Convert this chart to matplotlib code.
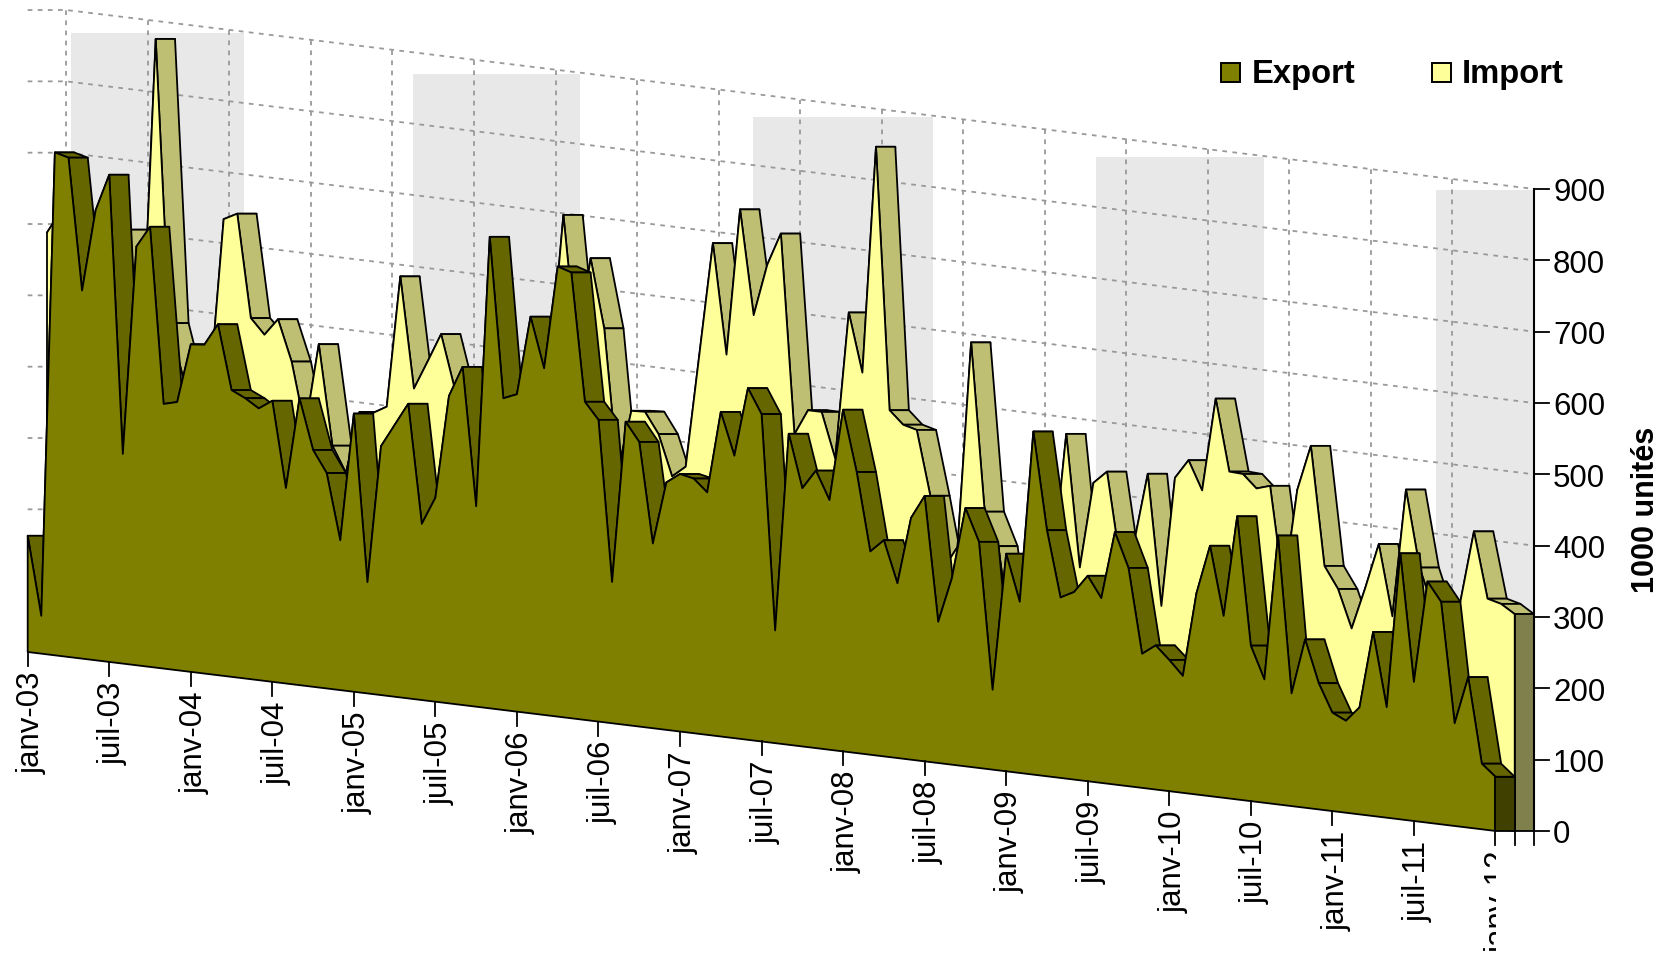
import numpy as np
import matplotlib
matplotlib.use('Agg')
import matplotlib.pyplot as plt
from matplotlib.patches import Polygon, Rectangle
from matplotlib.transforms import Affine2D

plt.rcParams['font.family'] = ['Liberation Sans', 'DejaVu Sans']

# monthly values, janv-03 to janv-12, in 1000 units
export = [163, 53, 705, 700, 516, 631, 683, 294, 587, 617,
          371, 376, 459, 461, 492, 402, 393, 381, 394, 274,
          402, 332, 302, 210, 390, 156, 349, 381, 413, 247,
          286, 431, 474, 281, 661, 437, 445, 556, 486, 631,
          625, 446, 423, 198, 425, 399, 259, 347, 361, 357,
          340, 455, 396, 493, 459, 158, 436, 362, 389, 350,
          479, 394, 285, 303, 245, 339, 372, 198, 261, 362,
          317, 112, 305, 240, 481, 345, 253, 263, 288, 259,
          354, 306, 188, 202, 184, 164, 282, 351, 255, 397,
          218, 173, 377, 158, 236, 177, 138, 129, 150, 258,
          155, 373, 195, 338, 312, 144, 211, 92, 76]
imports = [588, 620, 500, 450, 450, 450, 606, 437, 878, 482,
           409, 410, 403, 637, 647, 503, 482, 506, 449, 357,
           478, 338, 302, 390, 391, 402, 587, 432, 472, 513,
           439, 420, 430, 430, 420, 430, 430, 483, 701, 510,
           645, 549, 350, 438, 439, 410, 353, 369, 528, 687,
           533, 739, 593, 666, 712, 433, 469, 469, 406, 613,
           531, 850, 483, 465, 460, 370, 271, 303, 592, 357,
           311, 172, 300, 350, 289, 480, 295, 416, 434, 306,
           340, 438, 255, 437, 464, 424, 555, 455, 454, 436,
           442, 300, 441, 505, 339, 309, 256, 315, 379, 280,
           460, 353, 297, 300, 312, 413, 321, 316, 304]

tick_labels = ['janv-03', 'juil-03', 'janv-04', 'juil-04', 'janv-05', 'juil-05',
               'janv-06', 'juil-06', 'janv-07', 'juil-07', 'janv-08', 'juil-08',
               'janv-09', 'juil-09', 'janv-10', 'juil-10', 'janv-11', 'juil-11',
               'janv-12']
y_ticks = [0, 100, 200, 300, 400, 500, 600, 700, 800, 900]
# grey periods on the back wall, in months from janv-03
bands = [(0.35, 13.07), (25.5, 37.8), (50.5, 63.8), (75.8, 88.1), (100.8, 108)]

DEPTH = 19.3
oblique = Affine2D(np.array([[13.59, 0.0, 27.7],
                             [1.657, -0.7133, 652.0],
                             [0.0, 0.0, 1.0]]))


def project(m, v, depth=0.0):
    pts = oblique.transform(np.column_stack([m, v]))
    pts[:, 0] += depth
    return pts


def draw_series(ax, values, depth, front, side, end):
    months = np.arange(len(values))
    values = np.array(values, dtype=float)
    d2 = depth + DEPTH
    # top surface, one quad per month, left to right
    for i in months[:-1]:
        quad = np.vstack([project([i, i + 1], values[i:i + 2], depth),
                          project([i + 1, i], values[[i + 1, i]], d2)])
        ax.add_patch(Polygon(quad, closed=True, fc=side, ec='black', lw=1.3, joinstyle='round'))
    outline = np.vstack([project([0], [0], depth),
                         project(months, values, depth),
                         project([months[-1]], [0], depth)])
    ax.add_patch(Polygon(outline, closed=True, fc=front, ec='black', lw=1.3, joinstyle='round'))
    last = months[-1]
    wall = np.vstack([project([last, last], [0, values[-1]], depth),
                      project([last, last], [values[-1], 0], d2)])
    ax.add_patch(Polygon(wall, closed=True, fc=end, ec='black', lw=1.3, joinstyle='round'))


def main():
    fig = plt.figure(figsize=(16.7, 9.55), dpi=100)
    ax = fig.add_axes([0, 0, 1, 1])
    ax.set_xlim(0, 1670)
    ax.set_ylim(955, 0)
    ax.axis('off')

    back = 2 * DEPTH
    n = len(export) - 1
    grid = dict(color='#999999', lw=1.3, ls=(0, (2.6, 3)), zorder=1)

    for m1, m2 in bands:
        right_top = project([m2], [900], back)[0]
        left = project([m1], [900], back)[0]
        # the bottom stays hidden behind the series
        bottom = project([m1], [0])[0][1]
        ax.add_patch(Rectangle((left[0], right_top[1] + 1), right_top[0] - left[0],
                               bottom - right_top[1], fc='#E8E8E8', ec='none', zorder=0))

    for v in y_ticks:
        p = project([0, n], [v, v], back)
        s = project([0], [v], 0)
        ax.plot([s[0, 0], p[0, 0], p[1, 0]], [s[0, 1], p[0, 1], p[1, 1]], **grid)
    for m in range(0, n + 1, 6):
        p = project([m, m], [0, 900], back)
        ax.plot(p[:, 0], p[:, 1], **grid)

    draw_series(ax, imports, DEPTH, '#FFFF99', '#BFBF73', '#80804D')
    draw_series(ax, export, 0.0, '#808000', '#666600', '#404000')

    # month axis along the front edge
    clip = Rectangle((0, 0), 1495.6, 951, transform=ax.transData)
    for k, lab in enumerate(tick_labels):
        p = project([6 * k], [0])[0]
        ax.plot([p[0], p[0]], [p[1], p[1] + 14], color='black', lw=1.3)
        t = ax.text(p[0] + 4, p[1] + 19.5, lab, rotation=90, ha='center', va='top', fontsize=22.5)
        if k == len(tick_labels) - 1:
            t.set_clip_on(True)
            t.set_clip_path(clip)
    for depth in (DEPTH, back):
        p = project([n], [0], depth)[0]
        ax.plot([p[0], p[0]], [p[1], p[1] + 14], color='black', lw=1.3)

    # value axis on the right of the back wall
    p = project([n, n], [0, 900], back)
    ax.plot(p[:, 0], p[:, 1], color='black', lw=1.5)
    for v in y_ticks:
        q = project([n], [v], back)[0]
        ax.plot([q[0], q[0] + 14.5], [q[1], q[1]], color='black', lw=1.3)
        ax.text(q[0] + 19, q[1] + 1, str(v), ha='left', va='center_baseline', fontsize=22.5)
    ax.text(1646, 510, '1000 unités', rotation=90, ha='center', va='center',
            fontsize=22, fontweight='bold')

    # legend
    ax.add_patch(Rectangle((1221, 63), 19, 19, fc='#808000', ec='black', lw=1.4))
    ax.text(1252, 83, 'Export', ha='left', va='baseline', fontsize=23.6, fontweight='bold')
    ax.add_patch(Rectangle((1432, 63), 19, 19, fc='#FFFF99', ec='black', lw=1.4))
    ax.text(1462, 83, 'Import', ha='left', va='baseline', fontsize=23.6, fontweight='bold')

    fig.savefig('out.png', dpi=100)


if __name__ == "__main__":
    main()
